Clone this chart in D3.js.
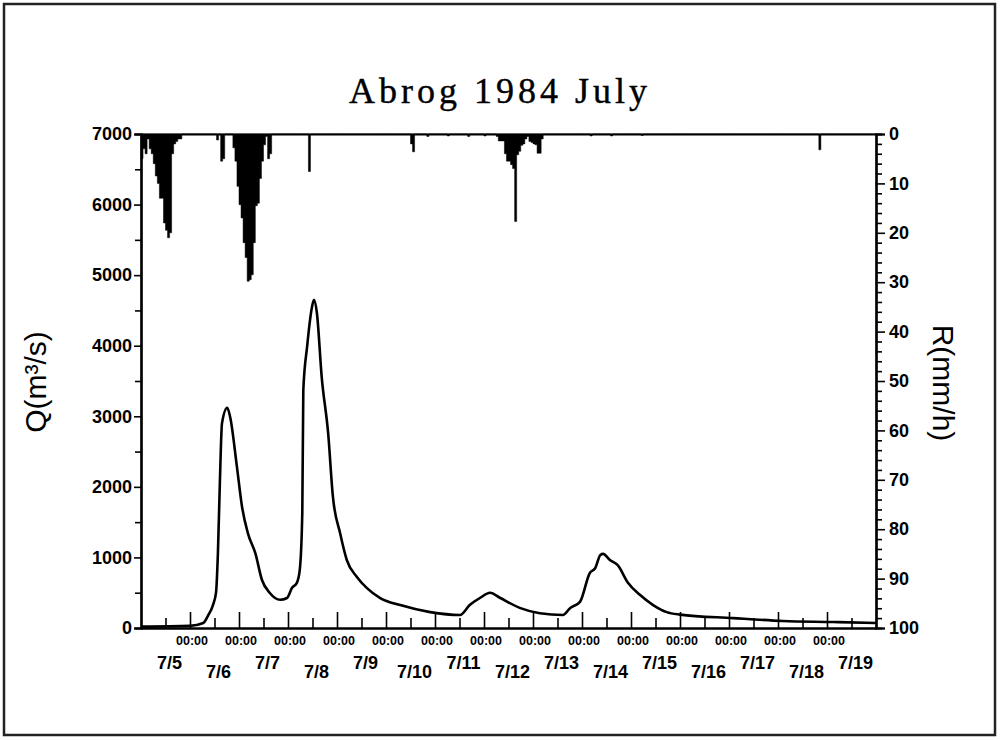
<!DOCTYPE html>
<html><head><meta charset="utf-8">
<script src="https://cdn.jsdelivr.net/npm/d3@7/dist/d3.min.js"></script>
<style>body{margin:0;background:#fff}</style>
</head><body><svg id="c" width="1000" height="740"></svg>
<script>
const chartTitle = "Abrog 1984 July";
const yLeftTitle = "Q(m³/s)";
const yRightTitle = "R(mm/h)";

// Discharge hydrograph (time "MM-DD HH:MM", July 1984) and Q (m3/s)
const flowTimes = ["07-05 00:00","07-06 00:00","07-06 06:30","07-06 09:00","07-06 11:15","07-06 12:45","07-06 13:40","07-06 14:40","07-06 15:40","07-06 18:15","07-06 19:40","07-06 23:00","07-07 01:30","07-07 04:20","07-07 08:00","07-07 11:15","07-07 15:00","07-07 20:10","07-07 23:30","07-08 02:00","07-08 04:20","07-08 05:45","07-08 07:00","07-08 07:30","07-08 09:20","07-08 11:45","07-08 12:45","07-08 14:10","07-08 16:30","07-08 19:40","07-08 22:00","07-09 01:30","07-09 04:50","07-09 09:50","07-09 14:40","07-09 21:10","07-10 07:00","07-10 21:40","07-11 12:15","07-11 17:00","07-11 22:00","07-12 03:00","07-12 08:00","07-12 17:30","07-13 03:20","07-13 14:40","07-13 18:15","07-13 23:00","07-14 03:50","07-14 06:30","07-14 09:00","07-14 10:20","07-14 13:40","07-14 17:30","07-14 22:30","07-15 04:20","07-15 10:50","07-15 17:30","07-16 00:00","07-17 02:00","07-18 02:20","07-19 03:00","07-20 00:00"];
const flowValues = [20,30,70,185,325,500,1060,2100,2900,3120,2990,2280,1715,1345,1060,680,500,400,425,570,640,820,1630,3370,3980,4550,4650,4460,3560,2760,1860,1345,960,720,565,425,325,225,185,325,425,500,425,285,210,185,285,370,780,850,1035,1050,965,890,640,470,325,225,190,140,100,85,70];

// Hourly rainfall (hour index from 07-05 00:00) and R (mm/h); other hours are 0
const rainHours = [0,1,2,3,4,5,6,7,8,9,10,11,12,13,14,15,16,17,18,19,
  37,39,40,45,46,47,48,49,50,51,52,53,54,55,56,57,58,59,60,61,62,63,
  82,132,133,140,150,160,168,
  174,175,176,177,178,179,180,181,182,183,184,185,186,187,188,189,190,191,192,193,194,195,196,
  220,230,245,332];
const rainValues = [5,3,4,1,3,4,6,8.5,10,13,13,18,19.5,21,20,4,2,1.5,1,1,
  1.2,5.5,5,2.8,5.5,10.6,14.3,17,22,25,29.8,29.5,28.5,22,14.5,14,9,5.5,2.2,0.5,5,4,
  7.6,2,3.6,0.5,0.4,0.5,0.4,
  0.5,1.4,1.4,1.4,4,5.5,5.5,6.2,7,17.7,4.2,3.5,2.3,2,1,0.5,1.5,1.7,2,2.2,3.9,3.9,1,
  0.4,0.4,0.3,3.2];

const qTicks = [0,1000,2000,3000,4000,5000,6000,7000];
const qMinorTicks = [500,1500,2500,3500,4500,5500,6500];
const rTicks = [0,10,20,30,40,50,60,70,80,90,100];
const dayLabels = ["7/5","7/6","7/7","7/8","7/9","7/10","7/11","7/12","7/13","7/14","7/15","7/16","7/17","7/18","7/19"];
const midnightLabel = "00:00";

const parse = d3.timeParse("%Y-%m-%d %H:%M");
const t0 = parse("1984-07-05 00:00"), t1 = parse("1984-07-20 00:00");

const svg = d3.select("#c");
const L = 141, R = 876, T = 134, B = 628;

svg.append("rect").attr("x",4).attr("y",4).attr("width",991).attr("height",731)
  .attr("fill","none").attr("stroke","#222").attr("stroke-width",2.5);

const x = d3.scaleTime().domain([t0,t1]).range([L,R]);
const yQ = d3.scaleLinear().domain([0,7000]).range([B,T]);
const yR = d3.scaleLinear().domain([0,100]).range([T,B]);

const sans = "'Liberation Sans', Arial, sans-serif";

// rainfall hyetograph as a stepped area hanging from the top axis
const rainMap = new Map(rainHours.map((h,i)=>[h, rainValues[i]]));
const nHours = d3.timeHour.count(t0, t1);
const rainSeries = d3.range(nHours+1).map(h=>({t:d3.timeHour.offset(t0,h), v: rainMap.get(h) || 0}));
svg.append("path").datum(rainSeries)
  .attr("d", d3.area().x(d=>x(d.t)).y0(yR(0)).y1(d=>yR(d.v)).curve(d3.curveStepAfter))
  .attr("fill","#000").attr("stroke","#000").attr("stroke-width",0.5);

// discharge line
const flow = flowTimes.map((s,i)=>({t:parse("1984-"+s), v:flowValues[i]}));
svg.append("path").datum(flow)
  .attr("d", d3.line().x(d=>x(d.t)).y(d=>yQ(d.v)).curve(d3.curveMonotoneX))
  .attr("fill","none").attr("stroke","#000").attr("stroke-width",2.6).attr("stroke-linejoin","round");

// left axis
const gl = svg.append("g").attr("transform",`translate(${L},0)`)
  .call(d3.axisLeft(yQ).tickValues(qTicks).tickSize(7).tickPadding(2).tickFormat(d3.format("d")));
gl.append("g").call(d3.axisLeft(yQ).tickValues(qMinorTicks).tickSize(6).tickFormat(""));
// right axis
const rMinor = d3.range(0,101,2).filter(v=>v%10!==0);
const gr = svg.append("g").attr("transform",`translate(${R},0)`)
  .call(d3.axisRight(yR).tickValues(rTicks).tickSize(9).tickPadding(4));
gr.append("g").call(d3.axisRight(yR).tickValues(rMinor).tickSize(6).tickFormat(""));
// top line
svg.append("g").attr("transform",`translate(0,${T})`)
  .call(d3.axisTop(x).tickValues([]).tickSizeOuter(0));
// bottom axis: day ticks (tall) and half-day ticks (short), pointing inward
const days = d3.timeDay.range(d3.timeDay.offset(t0,1), t1);
const halfDays = d3.timeDay.range(t0, t1).map(d=>d3.timeHour.offset(d,12));
const gb = svg.append("g").attr("transform",`translate(0,${B})`)
  .call(d3.axisBottom(x).tickValues(days).tickSize(-16).tickSizeOuter(0).tickFormat(""));
gb.append("g").call(d3.axisBottom(x).tickValues(halfDays).tickSize(-10).tickSizeOuter(0).tickFormat(""));

svg.selectAll(".domain").attr("stroke","#000").attr("stroke-width",2.2);
svg.selectAll(".tick line").attr("stroke","#000").attr("stroke-width",1.6);
svg.selectAll(".tick text").attr("font-family",sans).attr("font-size",18).attr("font-weight","bold").attr("fill","#000");

// 00:00 labels
svg.append("g").selectAll("text").data(days).join("text")
  .attr("x", d=>x(d)+2).attr("y", B+17)
  .attr("text-anchor","middle").attr("font-family",sans).attr("font-size",12.5).attr("font-weight","bold")
  .text(midnightLabel);
// date labels at mid-day, staggered
svg.append("g").selectAll("text").data(dayLabels).join("text")
  .attr("x", (d,i)=>x(d3.timeHour.offset(t0, i*24+14)))
  .attr("y", (d,i)=> i%2===0 ? B+41 : B+50)
  .attr("text-anchor","middle").attr("font-family",sans).attr("font-size",18).attr("font-weight","bold")
  .text(d=>d);

// titles
svg.append("text").attr("x",500).attr("y",103).attr("text-anchor","middle")
  .attr("font-family","'Liberation Serif', 'Times New Roman', serif").attr("font-size",36)
  .attr("letter-spacing",4).attr("stroke","#000").attr("stroke-width",0.4).text(chartTitle);
svg.append("text").attr("transform","translate(46,382) rotate(-90)").attr("text-anchor","middle")
  .attr("font-family",sans).attr("font-size",30).text(yLeftTitle);
svg.append("text").attr("transform","translate(933,383) rotate(90)").attr("text-anchor","middle")
  .attr("font-family",sans).attr("font-size",30).text(yRightTitle);
</script></body></html>
